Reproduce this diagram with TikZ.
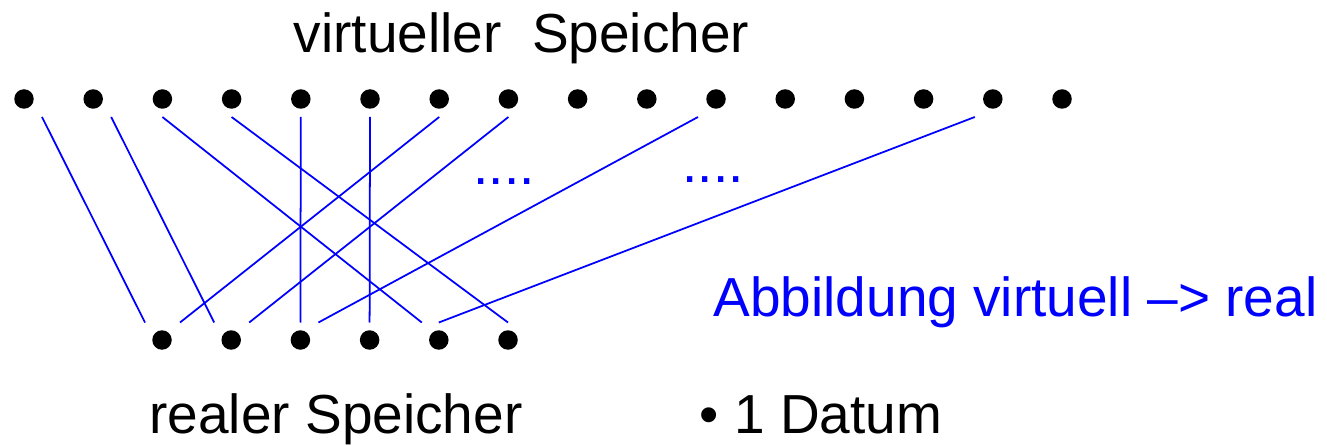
\documentclass[tikz,border=0pt]{standalone}
\usepackage{fontspec}
\setmainfont{Liberation Sans}
\definecolor{mapblue}{RGB}{0,0,255}
\usetikzlibrary{positioning,calc}

\begin{document}
\begin{tikzpicture}[
  memdot/.style={
    circle, fill=black, inner sep=0pt,
    minimum size=0.39cm
  },
  memlabel/.style={
    anchor=base, inner sep=0pt,
    font=\fontsize{31.3}{36}\selectfont
  },
  maplink/.style={line width=1pt, draw=mapblue}
]
\useasboundingbox (0,0) rectangle (26.54,-8.90);

% virtual and real cells
\foreach \i in {0,...,15}
  \node[memdot] (v\i) at ({0.48+1.384*\i},-1.98) {};
\foreach \j in {0,...,5}
  \node[memdot] (r\j) at ({3.24+1.384*\j},-6.80) {};

% mapping virtual -> real
\draw[maplink] ([shift={(0.36,-0.36)}]v0.center)  -- ([shift={(-0.34,0.35)}]r0.center);
\draw[maplink] ([shift={(0.36,-0.36)}]v1.center)  -- ([shift={(-0.34,0.35)}]r1.center);
\draw[maplink] ([shift={(0,-0.36)}]v2.center)     -- ([shift={(-0.34,0.35)}]r4.center);
\draw[maplink] ([shift={(0,-0.36)}]v3.center)     -- ([shift={(0,0.35)}]r5.center);
\draw[maplink] ([shift={(0,-0.36)}]v4.center)     -- ([shift={(0,0.35)}]r2.center);
\draw[maplink] ([shift={(0,-0.36)}]v5.center)     -- ([shift={(0,0.35)}]r3.center);
\draw[maplink] ([shift={(0,-0.36)}]v6.center)     -- ([shift={(0.36,0.35)}]r0.center);
\draw[maplink] ([shift={(0,-0.36)}]v7.center)     -- ([shift={(0.36,0.35)}]r1.center);
\draw[maplink] ([shift={(-0.36,-0.36)}]v10.center) -- ([shift={(0.36,0.35)}]r2.center);
\draw[maplink] ([shift={(-0.36,-0.36)}]v14.center) -- ([shift={(0,0.35)}]r4.center);

\node[memlabel, text=mapblue] (gap1) at (10.08,-3.69) {....};
\node[memlabel, text=mapblue] (gap2) at (14.26,-3.65) {....};

% labels
\node[memlabel] (virt) at (10.43,-1.06) {virtueller~~Speicher};
\node[memlabel] (real) at (6.72,-8.66) {realer Speicher};
\node[memlabel] (datum) at (16.42,-8.66) {• 1 Datum};
\node[memlabel, text=mapblue] (abb) at (20.31,-6.32) {Abbildung virtuell –> real};
\end{tikzpicture}
\end{document}
